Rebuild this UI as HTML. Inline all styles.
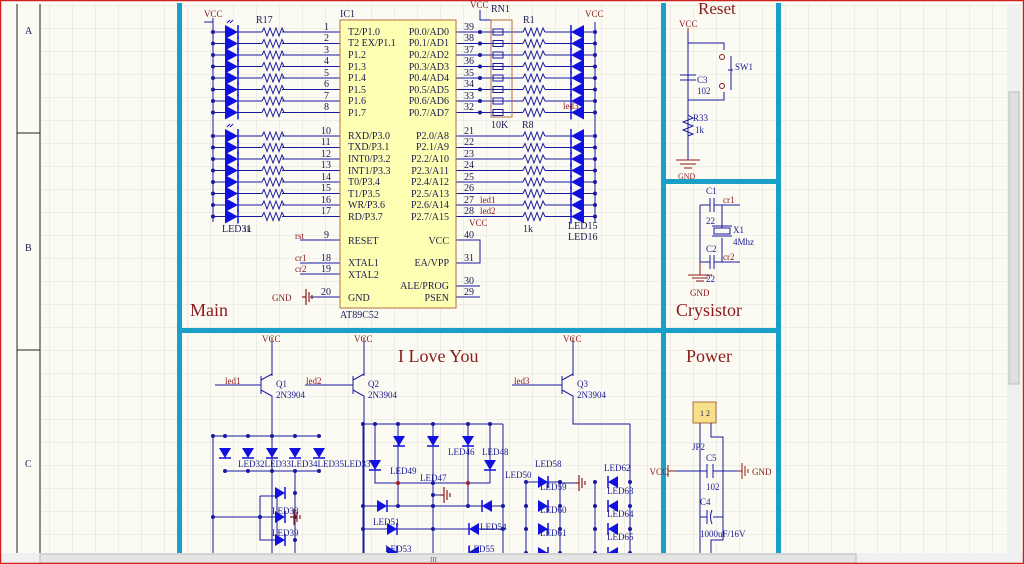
<!DOCTYPE html>
<html><head><meta charset="utf-8"><style>
html,body{margin:0;padding:0;background:#fbfaf3;}
svg{display:block;}
text{font-family:"Liberation Serif",serif;}
.t{font-size:10px;fill:#1a1a50;}
.r{font-size:9px;fill:#8b1a1a;}
.b{font-size:9px;fill:#1a1a90;}
</style></head><body>
<svg id="s" width="1024" height="564" viewBox="0 0 1024 564" xmlns="http://www.w3.org/2000/svg">
<defs>
<pattern id="g" width="23" height="23" patternUnits="userSpaceOnUse" x="4" y="6">
<path d="M23 0V23M0 23H23" stroke="#e2e2dc" stroke-width="1" fill="none"/>
</pattern>
<symbol id="rz" overflow="visible"><path d="M0 0l2-4l3 8l3-8l3 8l3-8l3 8l3-8l2 4" stroke="#1a1aa0" fill="none" stroke-width="1"/></symbol>
<symbol id="ld" overflow="visible"><path d="M-6-5h12l-6 10z" fill="#1010e0"/><path d="M-6 5h12" stroke="#1010e0" stroke-width="1.5"/></symbol>
<symbol id="lr" overflow="visible"><path d="M-5-6v12l10-6z" fill="#1010e0"/><path d="M5-6v12" stroke="#1010e0" stroke-width="1.5"/></symbol>
<symbol id="ll" overflow="visible"><path d="M5-6v12l-10-6z" fill="#1010e0"/><path d="M-5-6v12" stroke="#1010e0" stroke-width="1.5"/></symbol>
<symbol id="cr" overflow="visible"><path d="M0-7v14l13-7z" fill="#1010e0"/><path d="M13-7v14" stroke="#1010e0" stroke-width="1.5"/><path d="M2-9l3-3M5-9l3-3" stroke="#1010e0"/></symbol>
<symbol id="cl" overflow="visible"><path d="M13-7v14l-13-7z" fill="#1010e0"/><path d="M0-7v14" stroke="#1010e0" stroke-width="1.5"/></symbol>
<symbol id="gnd" overflow="visible"><path d="M0 0h4M4-8v16M7-5v10M10-2v4" stroke="#8b1a1a" fill="none" stroke-width="1.2"/></symbol>
</defs>
<rect width="1024" height="564" fill="#fbfaf3"/>
<rect x="40" y="4" width="968" height="550" fill="url(#g)"/>
<g id="w" stroke="#1a1aa0" fill="none" stroke-width="1"></g>
<g id="d" fill="#1a1aa0"></g>
<g id="sh"></g>

<path d="M17 4V554M40 4V554M17 133H40M17 350H40" stroke="#222" stroke-width="1"/>
<text x="25" y="34" class="t">A</text><text x="25" y="251" class="t">B</text><text x="25" y="467" class="t">C</text>

<g fill="#1aa0c8">
<rect x="177" y="3" width="5" height="550"/>
<rect x="661" y="3" width="5" height="550"/>
<rect x="776" y="3" width="5" height="550"/>
<rect x="177" y="328" width="604" height="5"/>
<rect x="661" y="179" width="120" height="5"/>
</g>

<rect x="340" y="20" width="116" height="288" fill="#ffffb4" stroke="#b07040" stroke-width="1"/>
<g class="t" font-size="9.5">
<text x="348" y="35">T2/P1.0</text><text x="348" y="46">T2 EX/P1.1</text><text x="348" y="58">P1.2</text><text x="348" y="70">P1.3</text><text x="348" y="81">P1.4</text><text x="348" y="93">P1.5</text><text x="348" y="104">P1.6</text><text x="348" y="116">P1.7</text>
<text x="348" y="139">RXD/P3.0</text><text x="348" y="150">TXD/P3.1</text><text x="348" y="162">INT0/P3.2</text><text x="348" y="174">INT1/P3.3</text><text x="348" y="185">T0/P3.4</text><text x="348" y="197">T1/P3.5</text><text x="348" y="208">WR/P3.6</text><text x="348" y="220">RD/P3.7</text>
<text x="348" y="244">RESET</text><text x="348" y="266">XTAL1</text><text x="348" y="278">XTAL2</text><text x="348" y="301">GND</text>
<g text-anchor="end">
<text x="449" y="35">P0.0/AD0</text><text x="449" y="46">P0.1/AD1</text><text x="449" y="58">P0.2/AD2</text><text x="449" y="70">P0.3/AD3</text><text x="449" y="81">P0.4/AD4</text><text x="449" y="93">P0.5/AD5</text><text x="449" y="104">P0.6/AD6</text><text x="449" y="116">P0.7/AD7</text>
<text x="449" y="139">P2.0/A8</text><text x="449" y="150">P2.1/A9</text><text x="449" y="162">P2.2/A10</text><text x="449" y="174">P2.3/A11</text><text x="449" y="185">P2.4/A12</text><text x="449" y="197">P2.5/A13</text><text x="449" y="208">P2.6/A14</text><text x="449" y="220">P2.7/A15</text>
<text x="449" y="244">VCC</text><text x="449" y="266">EA/VPP</text><text x="449" y="289">ALE/PROG</text><text x="449" y="301">PSEN</text>
</g>
<text x="340" y="17">IC1</text><text x="340" y="318">AT89C52</text>
</g>
<g class="t" font-size="9">
<text x="324" y="30">1</text><text x="324" y="41">2</text><text x="324" y="53">3</text><text x="324" y="64">4</text><text x="324" y="76">5</text><text x="324" y="87">6</text><text x="324" y="99">7</text><text x="324" y="110">8</text>
<text x="321" y="134">10</text><text x="321" y="145">11</text><text x="321" y="157">12</text><text x="321" y="168">13</text><text x="321" y="180">14</text><text x="321" y="191">15</text><text x="321" y="203">16</text><text x="321" y="214">17</text>
<text x="324" y="238">9</text><text x="321" y="261">18</text><text x="321" y="272">19</text><text x="321" y="295">20</text>
<text x="464" y="30">39</text><text x="464" y="41">38</text><text x="464" y="53">37</text><text x="464" y="64">36</text><text x="464" y="76">35</text><text x="464" y="87">34</text><text x="464" y="99">33</text><text x="464" y="110">32</text>
<text x="464" y="134">21</text><text x="464" y="145">22</text><text x="464" y="157">23</text><text x="464" y="168">24</text><text x="464" y="180">25</text><text x="464" y="191">26</text><text x="464" y="203">27</text><text x="464" y="214">28</text>
<text x="464" y="238">40</text><text x="464" y="261">31</text><text x="464" y="284">30</text><text x="464" y="295">29</text>
<text x="256" y="23">R17</text><text x="222" y="232">LED31</text><text x="243" y="232" font-size="8">1k</text>
<text x="491" y="128">10K</text><text x="491" y="12">RN1</text><text x="523" y="23">R1</text><text x="523" y="232">1k</text><text x="568" y="240">LED16</text><text x="568" y="229">LED15</text>
<text x="522" y="128">R8</text>
</g>
<g class="r">
<text x="204" y="17">VCC</text><text x="585" y="17">VCC</text><text x="470" y="8">VCC</text><text x="469" y="226">VCC</text>
<text x="295" y="239">rst</text><text x="295" y="261">cr1</text><text x="295" y="272">cr2</text><text x="272" y="301">GND</text>
<text x="480" y="203">led1</text><text x="480" y="214">led2</text><text x="563" y="109">led3</text>
</g>
<text x="190" y="316" font-size="18" fill="#8b1a1a">Main</text>

<text x="698" y="14" font-size="17" fill="#8b1a1a">Reset</text>
<g stroke="#1a1aa0" fill="none">
<path d="M688 32V160M688 43H724V50M688 100H724V92M680 75h16M680 80h16M731 56v34M728 70h5"/>
<circle cx="722" cy="57" r="2.5" stroke="#8b1a1a"/><circle cx="722" cy="86" r="2.5" stroke="#8b1a1a"/>
<path d="M688 115l5 3l-10 4l10 4l-10 4l10 4l-5 2" />
</g>
<path d="M688 28v4M676 160h24M680 164h16M684 168h8" stroke="#8b1a1a" fill="none"/>
<g class="r"><text x="679" y="27">VCC</text><text x="678" y="179" font-size="8">GND</text></g>
<g class="b"><text x="697" y="83">C3</text><text x="697" y="94">102</text><text x="735" y="70">SW1</text><text x="693" y="121">R33</text><text x="695" y="133">1k</text></g>
<g stroke="#1a1aa0" fill="none">
<path d="M700 205h10M714 205h20M710 198v14M714 198v14M700 205V262M700 262h10M714 262h20M710 255v14M714 255v14M722 205v23M722 238v24M714 228h16v6h-16zM712 226h20M712 236h20M734 205h6M734 262h6"/>
</g>
<path d="M688 275h24M692 278h16M696 281h8M700 262v13" stroke="#8b1a1a" fill="none"/>
<g class="b"><text x="706" y="194">C1</text><text x="706" y="224">22</text><text x="733" y="233">X1</text><text x="733" y="245">4Mhz</text><text x="706" y="252">C2</text><text x="706" y="282">22</text></g>
<g class="r"><text x="723" y="203">cr1</text><text x="723" y="260">cr2</text><text x="690" y="296">GND</text></g>
<text x="676" y="316" font-size="18" fill="#8b1a1a">Crysistor</text>

<text x="398" y="362" font-size="18" fill="#8b1a1a">I Love You</text>
<text x="686" y="362" font-size="18" fill="#8b1a1a">Power</text>

<g stroke="#1a1aa0" fill="none">
<path d="M272 337V376M261 376v18M261 380l11-6M261 390l11 6V553"/>
<path d="M364 337V376M353 376v18M353 380l11-6M353 390l11 6V553"/>
<path d="M573 337V376M562 376v18M562 380l11-6M562 390l11 6V424H630V553"/>
<path d="M215 385h46M305 385h48M512 385h50"/>
</g>
<path d="M272 337v4M364 337v4M573 337v4" stroke="#8b1a1a"/>
<g class="r"><text x="262" y="342">VCC</text><text x="354" y="342">VCC</text><text x="563" y="342">VCC</text>
<text x="225" y="384">led1</text><text x="306" y="384">led2</text><text x="514" y="384">led3</text></g>
<g class="b"><text x="276" y="387">Q1</text><text x="276" y="398">2N3904</text><text x="368" y="387">Q2</text><text x="368" y="398">2N3904</text><text x="577" y="387">Q3</text><text x="577" y="398">2N3904</text></g>

<rect x="693" y="402" width="23" height="21" fill="#f6e08a" stroke="#b07040"/>
<text x="700" y="416" font-size="8" fill="#1a1a50">1 2</text>
<g stroke="#1a1aa0" fill="none">
<path d="M700 423V553M711 423v14h12V540h-12v13M676 471h31M713 471h25M707 464v14M713 464v14M700 517h7M713 517h10M707 510v14M712 510q-3 7 0 14"/>
</g>
<path d="M668 465v12M668 471h8M738 471h4M742 463v16M745 466v10M748 469v4" stroke="#8b1a1a" fill="none"/>
<g class="b"><text x="692" y="450">JP2</text><text x="706" y="461">C5</text><text x="706" y="490">102</text><text x="700" y="505">C4</text><text x="700" y="537">1000uF/16V</text></g>
<g class="r"><text x="668" y="475" text-anchor="end">VCC</text><text x="752" y="475">GND</text></g>

<g class="b" font-size="9">
<text x="238" y="467">LED32LED33LED34LED35LED33</text>
<text x="272" y="514">LED38</text><text x="272" y="536">LED39</text>
<text x="390" y="474">LED49</text><text x="420" y="481">LED47</text><text x="448" y="455">LED46</text><text x="482" y="455">LED48</text><text x="505" y="478">LED50</text>
<text x="373" y="525">LED51</text><text x="385" y="552">LED53</text><text x="480" y="530">LED54</text><text x="468" y="552">LED55</text>
<text x="535" y="467">LED58</text><text x="604" y="471">LED62</text>
<text x="540" y="490">LED59</text><text x="540" y="513">LED60</text><text x="540" y="536">LED61</text>
<text x="607" y="494">LED63</text><text x="607" y="517">LED64</text><text x="607" y="540">LED65</text>
</g>

<rect x="1007" y="4" width="14" height="550" fill="#f0f0f0"/>
<rect x="1009" y="92" width="10" height="292" fill="#e0e0e0" stroke="#bbb"/>
<rect x="0" y="553" width="1024" height="11" fill="#f0f0f0"/>
<rect x="40" y="554" width="816" height="9" fill="#e4e4e4" stroke="#bbb"/>
<text x="430" y="562" font-size="7" fill="#666">III</text>
<rect x="0.5" y="0.5" width="1023" height="563" fill="none" stroke="#d02020" stroke-width="1.5"/>
</svg>
<script>
var NS="http://www.w3.org/2000/svg";
function el(g,n,a){var e=document.createElementNS(NS,n);for(var k in a)e.setAttribute(k,a[k]);document.getElementById(g).appendChild(e);return e;}
function line(p){el('w','path',{d:p});}
function dot(x,y,c){el('d','circle',{cx:x,cy:y,r:2,fill:c||'#1a1aa0'});}
function use(id,x,y){el('sh','use',{href:'#'+id,x:x,y:y});}
var ys=[32,43.5,55,66.5,78,89.5,101,112.5,136,147.5,159,170.5,182,193.5,205,216.5];
line('M213 22V222M213 22H204M213 18V22');
ys.forEach(function(y){dot(213,y);line('M213 '+y+'H262M282 '+y+'H340');use('rz',262,y);use('cr',225,y);});
line('M595 22V222');
ys.forEach(function(y,i){dot(595,y);line('M456 '+y+'H523M545 '+y+'H595');use('rz',523,y);use('cl',571,y);if(i<8)dot(480,y);});
el('sh','rect',{x:491,y:20,width:21,height:97,fill:'none',stroke:'#b07040'});
for(var i=0;i<8;i++)el('sh','rect',{x:493,y:ys[i]-3,width:10,height:6,fill:'none',stroke:'#1a1aa0'});
line('M480 10V20H491');
line('M300 240H340M300 263H340M300 274H340M310 297H340M456 240H480V263H456M456 286H480M456 297H480');
use('gnd',302,297);
line('M213 436H319M225 471H319M213 436V553M272 436V405M295 471V553M260 496V540H277M260 496H277M213 517H277M277 496V540');
[213,225,248,272,295,319].forEach(function(x){dot(x,436);});
[225,248,272,295,319].forEach(function(x){use('ld',x,453);dot(x,471);});
[493,517,540].forEach(function(y){use('lr',280,y);dot(295,y);});
dot(213,517);dot(260,517);use('gnd',290,517);
line('M363 424H503M363 424V553M503 424V553M375 424V483H490V424M398 424V483M433 424V553M468 424V483M363 506H503M363 529H503M398 483V506M468 483V506M433 495H440');
[363,375,398,433,468,490].forEach(function(x){dot(x,424);});
[399,433,468].forEach(function(x){use('ld',x,441);});
use('ld',375,465);use('ld',490,465);
[398,468].forEach(function(x){dot(x,483,'#a02020');});
dot(433,483);dot(433,495);use('gnd',440,495);
use('lr',382,506);use('ll',487,506);use('lr',392,529);use('ll',474,529);use('lr',392,552);use('ll',474,552);
[363,398,433,468,503].forEach(function(x){dot(x,506);});[363,433,503].forEach(function(x){dot(x,529);});
line('M526 482V553M560 482V553M526 482H560M560 483H575M595 482V553M630 482V553');
[482,506,529,553].forEach(function(y){use('lr',543,y);use('ll',613,y);dot(526,y);dot(560,y);dot(595,y);dot(630,y);});
use('gnd',575,483);
</script>
</body></html>
